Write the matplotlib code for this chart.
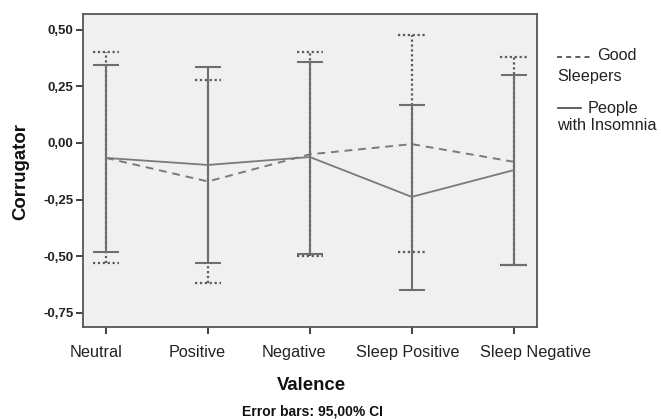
import numpy as np
import matplotlib
matplotlib.use('Agg')
import matplotlib.pyplot as plt
import matplotlib.transforms as mtransforms

plt.rcParams['font.family'] = ['Liberation Sans', 'DejaVu Sans']

# Data
categories = ['Neutral', 'Positive', 'Negative', 'Sleep Positive', 'Sleep Negative']
good_mean = [-0.066, -0.17, -0.05, -0.005, -0.083]
good_low = [-0.53, -0.62, -0.50, -0.48, -0.54]
good_high = [0.40, 0.278, 0.40, 0.475, 0.38]
insom_mean = [-0.066, -0.097, -0.062, -0.238, -0.12]
insom_low = [-0.48, -0.53, -0.49, -0.65, -0.54]
insom_high = [0.345, 0.335, 0.36, 0.17, 0.30]
yticks = [0.50, 0.25, 0.00, -0.25, -0.50, -0.75]

x = np.arange(len(categories))
line_col = '#7a7a7a'
bar_col = '#5a5a5a'
W, H = 661, 419

fig = plt.figure(figsize=(6.61, 4.19), dpi=100)
ax = fig.add_axes([0.1256, 0.2196, 0.6862, 0.747])
ax.set_facecolor('#f0f0f0')

# Good sleepers: dotted CI bars, dashed mean line
dots = (0, (1, 1.2))
ax.vlines(x, good_low, good_high, colors=bar_col, linewidth=1.6, linestyles=dots)
ax.hlines(good_high, x - 0.13, x + 0.13, colors=bar_col, linewidth=1.6, linestyles=dots)
ax.hlines(good_low, x - 0.13, x + 0.13, colors=bar_col, linewidth=1.6, linestyles=dots)
ax.plot(x, good_mean, color=line_col, linewidth=1.4, dashes=(4, 3))

# People with insomnia: solid CI bars, solid mean line
im = np.array(insom_mean)
ax.errorbar(x, im, yerr=[im - np.array(insom_low), np.array(insom_high) - im],
            fmt='none', ecolor='#6e6e6e', elinewidth=1.5, capsize=9.7, capthick=1.5)
ax.plot(x, insom_mean, color=line_col, linewidth=1.3)

ax.set_xlim(-0.225, 4.225)
ax.set_ylim(-0.813, 0.57)
ax.set_xticks(x)
ax.set_xticklabels(categories, fontsize=11.7, color='#222222')
ax.set_yticks(yticks)
ax.set_yticklabels([f'{v:.2f}'.replace('.', ',') for v in yticks], fontsize=9.5, fontweight='bold', color='#222222')
ax.tick_params(axis='both', direction='out', length=5, width=1.3, color='#333333')
ax.tick_params(axis='x', pad=8)
ax.tick_params(axis='y', pad=2)
for s in ax.spines.values():
    s.set_color('#555555')
    s.set_linewidth(1.3)

# labels are nudged sideways in the original so the long ones don't collide
shifts = [-10, -11, -16, -4, 22]
for lab, dx in zip(ax.get_xticklabels(), shifts):
    lab.set_transform(lab.get_transform() + mtransforms.ScaledTranslation(dx / 100, 0, fig.dpi_scale_trans))

fig.text(311 / W, 1 - 385 / H, 'Valence', fontsize=13.4, fontweight='bold', ha='center', va='center', color='#111111')
fig.text(21 / W, 1 - 172 / H, 'Corrugator', fontsize=13.4, fontweight='bold', rotation=90,
         ha='center', va='center', color='#111111')
fig.text(312 / W, 1 - 411 / H, 'Error bars: 95,00% CI', fontsize=10, fontweight='bold', ha='center', va='center', color='#111111')

# Legend outside on the right
fig.add_artist(plt.Line2D([557 / W, 593 / W], [1 - 57 / H] * 2, color='#444444', linewidth=1.2, dashes=(3, 2.5)))
fig.text(597 / W, 1 - 56 / H, 'Good', fontsize=11.7, va='center', color='#222222')
fig.text(557 / W, 1 - 76 / H, 'Sleepers', fontsize=11.7, va='center', color='#222222')
fig.add_artist(plt.Line2D([558 / W, 581 / W], [1 - 108 / H] * 2, color='#444444', linewidth=1.2))
fig.text(588 / W, 1 - 108 / H, 'People', fontsize=11.7, va='center', color='#222222')
fig.text(557 / W, 1 - 125 / H, 'with Insomnia', fontsize=11.7, va='center', color='#222222')

fig.savefig('out.png', dpi=100)
